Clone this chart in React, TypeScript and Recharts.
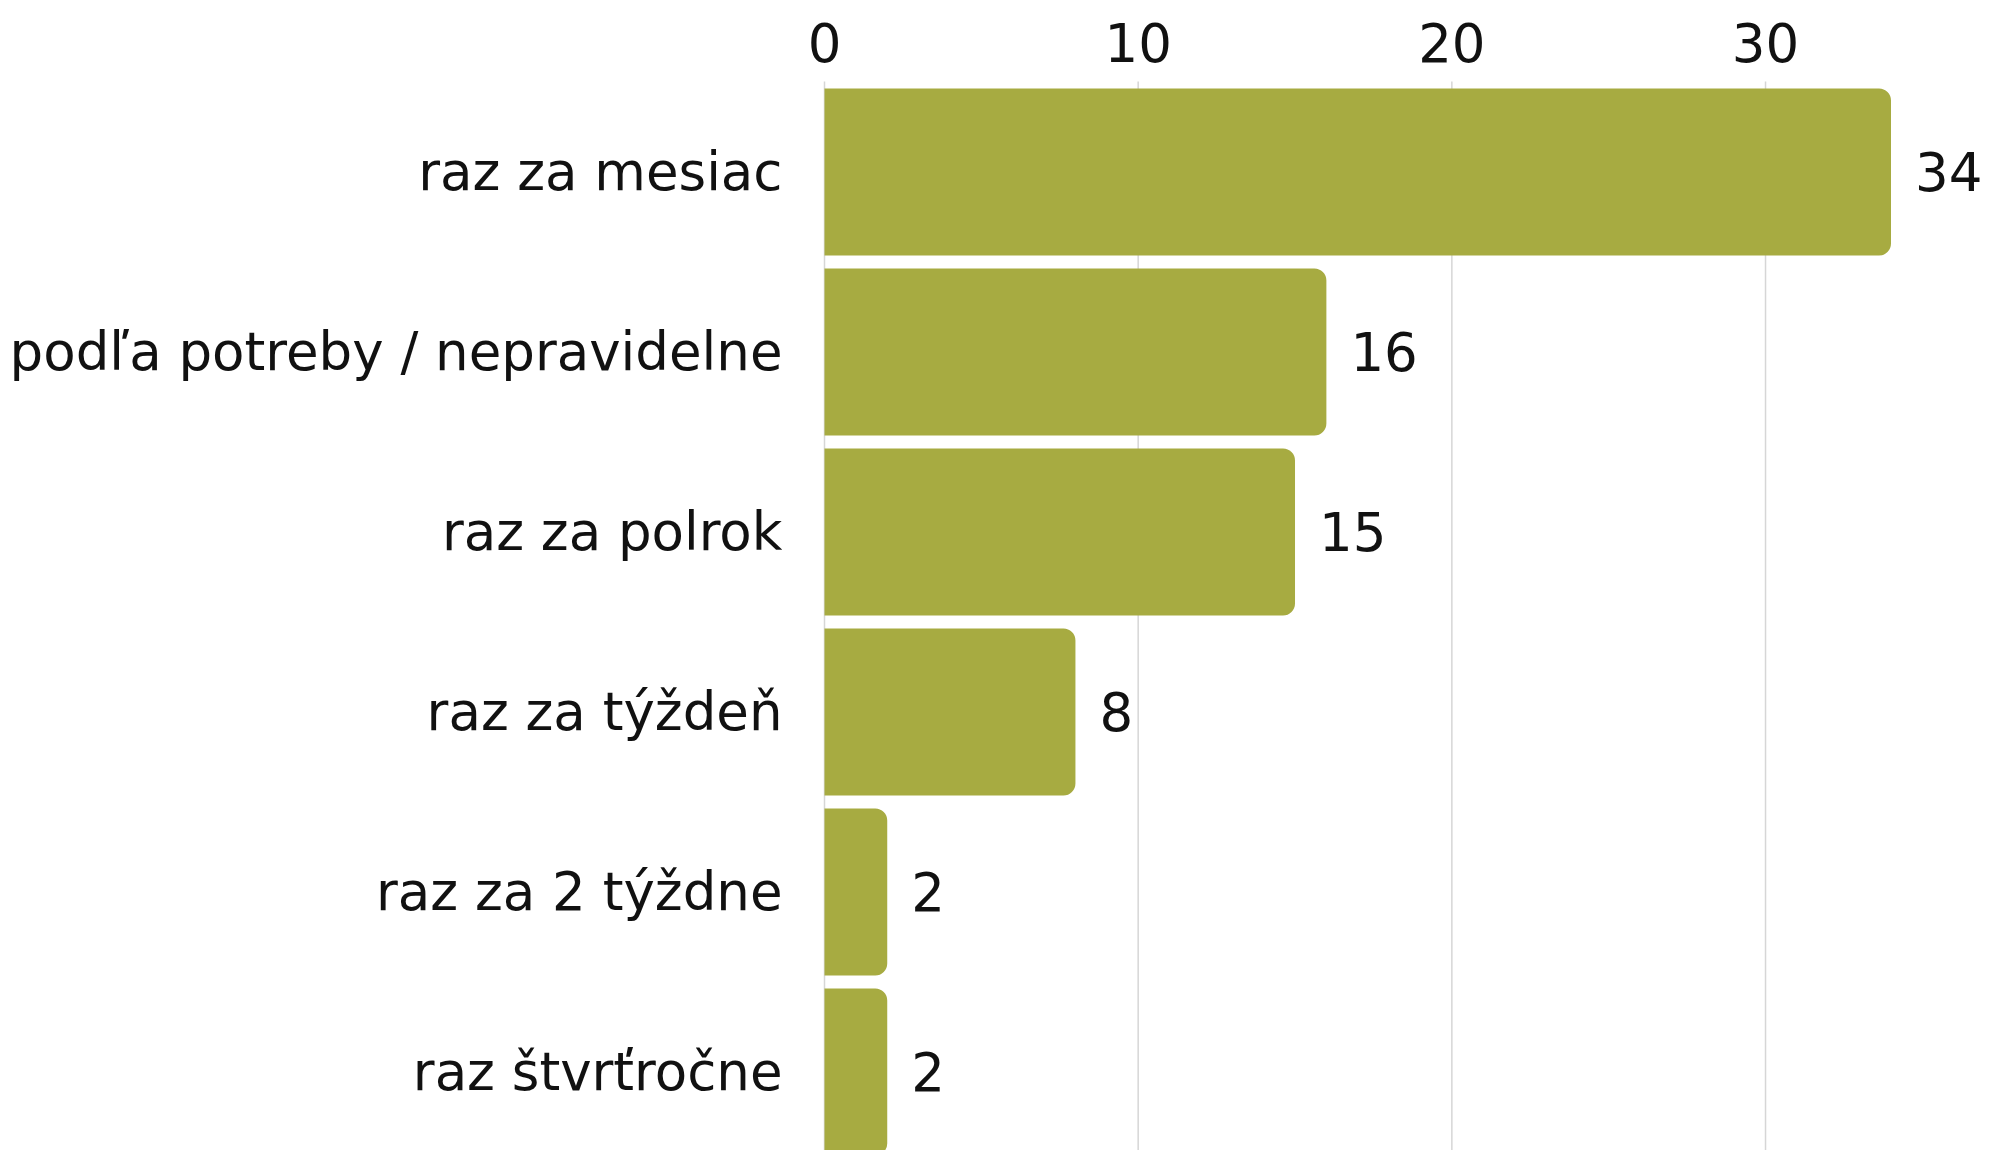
import { BarChart, Bar, XAxis, YAxis, CartesianGrid, LabelList } from 'recharts';

const categories = [
  'raz za mesiac',
  'podľa potreby / nepravidelne',
  'raz za polrok',
  'raz za týždeň',
  'raz za 2 týždne',
  'raz štvrťročne',
];
const counts = [34, 16, 15, 8, 2, 2];
const xTicks = [0, 10, 20, 30];

const data = categories.map((name, i) => ({ name, count: counts[i] }));

const FONT = '"DejaVu Sans", sans-serif';
const textStyle = { fontSize: 53, fill: '#111', fontFamily: FONT };

export default function App() {
  return (
    <div style={{ position: 'absolute', left: 0, top: 0, width: 1989, height: 1150, overflow: 'hidden', background: '#fff' }}>
      <BarChart
        width={1989}
        height={1170}
        data={data}
        layout="vertical"
        margin={{ top: 21.5, right: 98, bottom: 8.5, left: 0 }}
        barSize={167}
      >
        <CartesianGrid horizontal={false} verticalValues={xTicks} stroke="#d6d6d6" strokeWidth={1.5} />
        <XAxis
          type="number"
          orientation="top"
          domain={[0, 'dataMax']}
          ticks={xTicks}
          height={60}
          axisLine={false}
          tickLine={false}
          tickSize={0}
          tickMargin={20}
          tick={textStyle}
        />
        <YAxis
          type="category"
          dataKey="name"
          width={824.5}
          axisLine={false}
          tickLine={false}
          tickSize={0}
          tickMargin={42}
          tick={textStyle}
        />
        <Bar dataKey="count" fill="#a7ab41" radius={[0, 12, 12, 0]} isAnimationActive={false}>
          <LabelList dataKey="count" position="right" offset={24} style={textStyle} />
        </Bar>
      </BarChart>
    </div>
  );
}
